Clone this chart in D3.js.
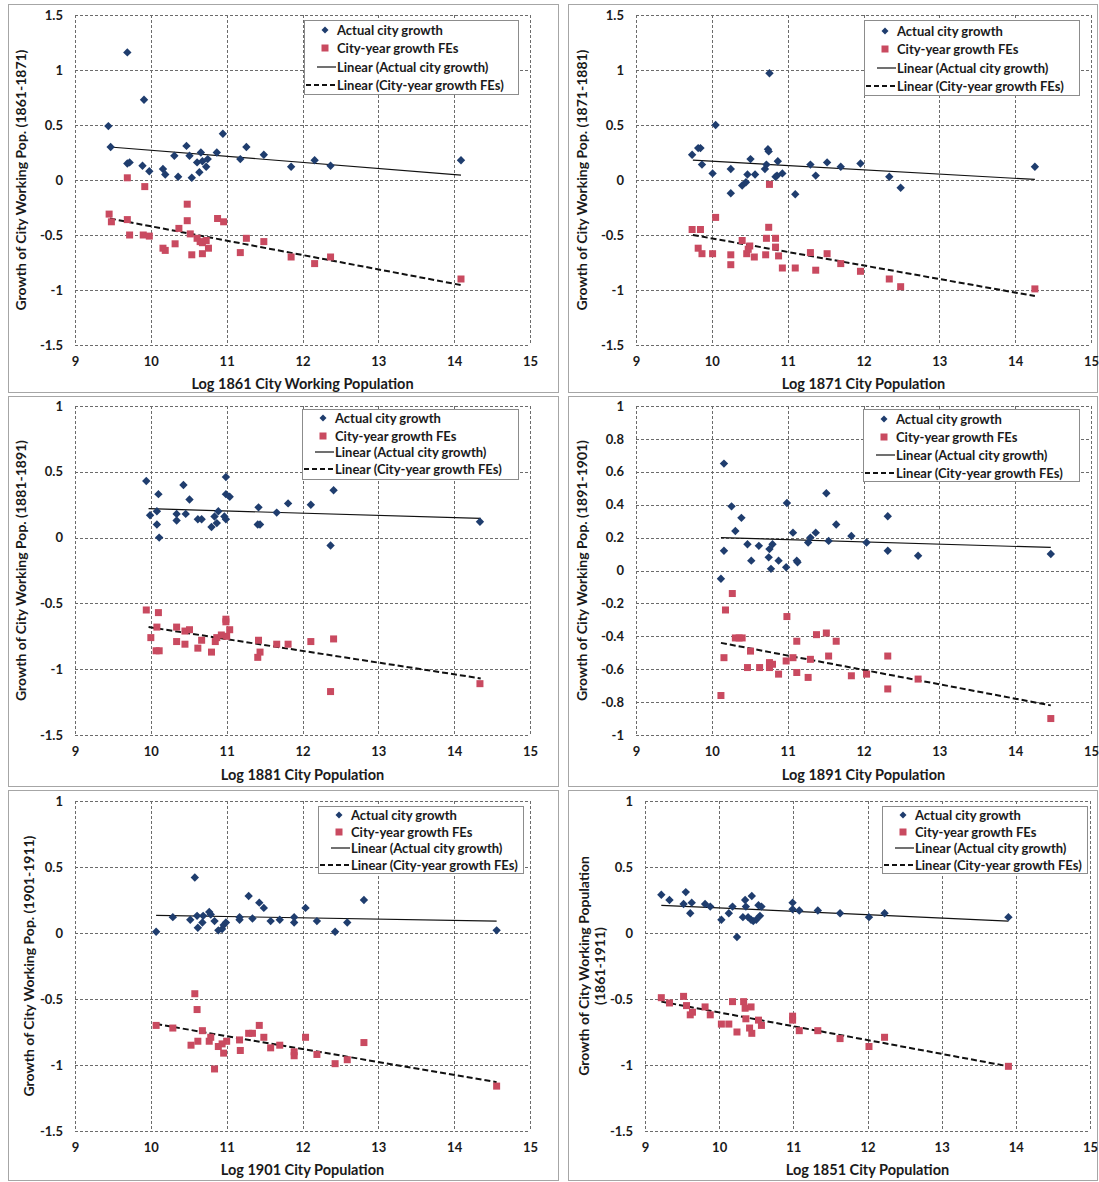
<!DOCTYPE html>
<html><head><meta charset="utf-8">
<script src="https://cdn.jsdelivr.net/npm/d3@7"></script>
<style>
body{margin:0;background:#fff}
svg{display:block}
text{font-family:Lato,"Open Sans",sans-serif;font-weight:bold;fill:#1a1a1a}
</style>
</head><body>
<svg id="chart" width="1099" height="1182"></svg>
<script>
// ---------------- DATA ----------------
const xTicks = [9, 10, 11, 12, 13, 14, 15];
const yTicksWide = [-1.5, -1, -0.5, 0, 0.5, 1, 1.5];
const yTicksMid = [-1.5, -1, -0.5, 0, 0.5, 1];
const yTicksFine = [-1, -0.8, -0.6, -0.4, -0.2, 0, 0.2, 0.4, 0.6, 0.8, 1];

const legendLabels = ["Actual city growth", "City-year growth FEs",
  "Linear (Actual city growth)", "Linear (City-year growth FEs)"];

const xTitles = ["Log 1861 City Working Population", "Log 1871 City Population",
  "Log 1881 City Population", "Log 1891 City Population",
  "Log 1901 City Population", "Log 1851 City Population"];
const yTitles = [
  ["Growth of City Working Pop. (1861-1871)"],
  ["Growth of City Working Pop.  (1871-1881)"],
  ["Growth of City Working Pop.  (1881-1891)"],
  ["Growth of City Working Pop.  (1891-1901)"],
  ["Growth of City Working Pop.  (1901-1911)"],
  ["Growth of City Working Population", "(1861-1911)"]];

const p1Actual = [[9.44,0.49],[9.47,0.30],[9.69,1.16],[9.69,0.15],[9.72,0.16],[9.91,0.73],[9.89,0.13],[9.98,0.08],[10.16,0.10],[10.19,0.05],[10.31,0.22],[10.36,0.03],[10.47,0.31],[10.51,0.22],[10.54,0.02],[10.61,0.16],[10.64,0.07],[10.66,0.25],[10.68,0.17],[10.73,0.12],[10.75,0.19],[10.87,0.25],[10.95,0.42],[11.18,0.19],[11.26,0.30],[11.49,0.23],[11.85,0.12],[12.16,0.18],[12.37,0.13],[14.09,0.18]];
const p1Fe = [[9.45,-0.31],[9.48,-0.38],[9.69,0.02],[9.69,-0.36],[9.72,-0.50],[9.92,-0.06],[9.90,-0.50],[9.98,-0.51],[10.16,-0.62],[10.19,-0.64],[10.32,-0.58],[10.37,-0.44],[10.48,-0.22],[10.48,-0.37],[10.52,-0.49],[10.54,-0.68],[10.61,-0.53],[10.65,-0.56],[10.68,-0.57],[10.68,-0.67],[10.73,-0.55],[10.76,-0.62],[10.88,-0.35],[10.96,-0.38],[11.18,-0.66],[11.26,-0.53],[11.49,-0.56],[11.85,-0.70],[12.16,-0.76],[12.37,-0.70],[14.09,-0.90]];
const p1TrendActual = [[9.46,0.30],[14.09,0.045]];
const p1TrendFe = [[9.46,-0.35],[14.09,-0.955]];

const p2Actual = [[9.74,0.23],[9.82,0.29],[9.85,0.29],[9.87,0.14],[10.05,0.50],[10.01,0.06],[10.25,0.10],[10.25,-0.12],[10.40,-0.05],[10.45,-0.02],[10.47,0.05],[10.51,0.19],[10.57,0.05],[10.70,0.10],[10.72,0.14],[10.74,0.28],[10.75,0.26],[10.76,0.97],[10.87,0.17],[10.84,0.03],[10.86,0.04],[10.93,0.06],[11.10,-0.13],[11.30,0.14],[11.37,0.04],[11.52,0.16],[11.70,0.12],[11.96,0.15],[12.34,0.03],[12.49,-0.07],[14.26,0.12]];
const p2Fe = [[9.74,-0.45],[9.85,-0.45],[9.82,-0.62],[9.87,-0.67],[10.05,-0.34],[10.01,-0.67],[10.25,-0.68],[10.25,-0.77],[10.40,-0.55],[10.46,-0.67],[10.48,-0.63],[10.50,-0.60],[10.56,-0.70],[10.71,-0.68],[10.72,-0.53],[10.75,-0.43],[10.76,-0.04],[10.84,-0.53],[10.84,-0.61],[10.88,-0.69],[10.93,-0.80],[11.10,-0.80],[11.30,-0.66],[11.37,-0.82],[11.52,-0.67],[11.70,-0.76],[11.96,-0.83],[12.34,-0.90],[12.49,-0.97],[14.26,-0.99]];
const p2TrendActual = [[9.75,0.18],[14.26,0.005]];
const p2TrendFe = [[9.75,-0.50],[14.26,-1.055]];

const p3Actual = [[9.94,0.43],[10.10,0.33],[9.99,0.17],[10.08,0.20],[10.08,0.10],[10.11,0.00],[10.34,0.18],[10.34,0.13],[10.43,0.40],[10.46,0.18],[10.51,0.29],[10.62,0.14],[10.67,0.14],[10.80,0.08],[10.84,0.16],[10.87,0.11],[10.89,0.20],[10.97,0.16],[10.99,0.46],[10.99,0.33],[11.04,0.31],[10.99,0.14],[11.42,0.23],[11.41,0.10],[11.44,0.10],[11.66,0.19],[11.81,0.26],[12.11,0.25],[12.41,0.36],[12.37,-0.06],[14.34,0.12]];
const p3Fe = [[9.94,-0.55],[10.10,-0.57],[10.08,-0.68],[10.00,-0.76],[10.07,-0.86],[10.11,-0.86],[10.34,-0.68],[10.34,-0.79],[10.45,-0.81],[10.45,-0.71],[10.51,-0.70],[10.62,-0.84],[10.67,-0.78],[10.80,-0.87],[10.85,-0.79],[10.87,-0.76],[10.93,-0.74],[10.99,-0.62],[10.99,-0.64],[11.00,-0.75],[11.04,-0.70],[11.42,-0.78],[11.44,-0.87],[11.41,-0.91],[11.66,-0.81],[11.81,-0.81],[12.11,-0.79],[12.41,-0.77],[12.37,-1.17],[14.34,-1.11]];
const p3TrendActual = [[9.97,0.22],[14.35,0.146]];
const p3TrendFe = [[9.97,-0.68],[14.35,-1.07]];

const p4Actual = [[10.16,0.65],[10.12,-0.05],[10.16,0.12],[10.26,0.39],[10.31,0.24],[10.39,0.32],[10.47,0.16],[10.52,0.06],[10.62,0.15],[10.75,0.08],[10.76,0.13],[10.78,0.01],[10.80,0.16],[10.88,0.06],[10.98,0.02],[10.99,0.41],[11.07,0.23],[11.12,0.06],[11.13,0.05],[11.27,0.17],[11.30,0.20],[11.37,0.23],[11.51,0.47],[11.54,0.18],[11.64,0.28],[11.84,0.21],[12.04,0.17],[12.32,0.33],[12.32,0.12],[12.72,0.09],[14.47,0.10]];
const p4Fe = [[10.27,-0.14],[10.18,-0.24],[10.31,-0.41],[10.36,-0.41],[10.40,-0.41],[10.16,-0.53],[10.12,-0.76],[10.51,-0.49],[10.47,-0.59],[10.63,-0.59],[10.76,-0.56],[10.76,-0.59],[10.80,-0.57],[10.88,-0.63],[10.98,-0.55],[10.99,-0.28],[11.07,-0.53],[11.12,-0.43],[11.12,-0.62],[11.27,-0.65],[11.30,-0.54],[11.38,-0.39],[11.51,-0.38],[11.54,-0.52],[11.64,-0.43],[11.84,-0.64],[12.04,-0.63],[12.32,-0.52],[12.32,-0.72],[12.72,-0.66],[14.47,-0.90]];
const p4TrendActual = [[10.12,0.20],[14.47,0.14]];
const p4TrendFe = [[10.12,-0.44],[14.47,-0.82]];

const p5Actual = [[10.07,0.01],[10.29,0.12],[10.52,0.10],[10.58,0.42],[10.61,0.13],[10.62,0.04],[10.68,0.08],[10.69,0.13],[10.77,0.16],[10.79,0.14],[10.84,0.09],[10.89,0.02],[10.94,0.03],[10.96,0.06],[10.99,0.08],[11.17,0.12],[11.17,0.10],[11.29,0.28],[11.34,0.11],[11.43,0.23],[11.49,0.19],[11.58,0.09],[11.70,0.10],[11.89,0.12],[11.89,0.08],[12.04,0.19],[12.19,0.09],[12.43,0.01],[12.59,0.08],[12.81,0.25],[14.56,0.02]];
const p5Fe = [[10.07,-0.70],[10.29,-0.72],[10.53,-0.85],[10.58,-0.46],[10.61,-0.58],[10.62,-0.82],[10.68,-0.74],[10.77,-0.82],[10.79,-0.79],[10.84,-1.03],[10.89,-0.86],[10.94,-0.84],[10.96,-0.91],[11.00,-0.82],[11.17,-0.81],[11.18,-0.89],[11.29,-0.76],[11.34,-0.76],[11.43,-0.70],[11.49,-0.79],[11.58,-0.87],[11.70,-0.85],[11.89,-0.90],[11.89,-0.93],[12.04,-0.79],[12.19,-0.92],[12.43,-0.99],[12.59,-0.96],[12.81,-0.83],[14.56,-1.16]];
const p5TrendActual = [[10.07,0.134],[14.56,0.09]];
const p5TrendFe = [[10.07,-0.69],[14.56,-1.13]];

const p6Actual = [[9.22,0.29],[9.33,0.25],[9.52,0.22],[9.55,0.31],[9.61,0.15],[9.63,0.23],[9.81,0.22],[9.88,0.20],[10.03,0.10],[10.13,0.15],[10.18,0.20],[10.24,-0.03],[10.32,0.12],[10.35,0.25],[10.36,0.20],[10.39,0.12],[10.43,0.10],[10.44,0.28],[10.46,0.09],[10.50,0.10],[10.53,0.21],[10.55,0.13],[10.57,0.20],[10.99,0.23],[10.99,0.18],[11.08,0.17],[11.33,0.17],[11.63,0.15],[12.02,0.12],[12.23,0.15],[13.90,0.12]];
const p6Fe = [[9.22,-0.49],[9.33,-0.53],[9.52,-0.48],[9.56,-0.55],[9.61,-0.62],[9.64,-0.60],[9.81,-0.56],[9.88,-0.62],[10.03,-0.69],[10.13,-0.69],[10.18,-0.52],[10.24,-0.75],[10.33,-0.52],[10.35,-0.57],[10.36,-0.65],[10.43,-0.56],[10.41,-0.72],[10.44,-0.76],[10.53,-0.66],[10.57,-0.70],[10.99,-0.63],[10.99,-0.66],[11.08,-0.74],[11.33,-0.74],[11.63,-0.80],[12.02,-0.86],[12.23,-0.79],[13.90,-1.01]];
const p6TrendActual = [[9.22,0.21],[13.90,0.09]];
const p6TrendFe = [[9.22,-0.52],[13.90,-1.01]];

// ---------------- LAYOUT ----------------
const panels = [
  {frame:[8,4,558,392], plot:[75,530,15,345], yDomain:[-1.5,1.5], yTicks:yTicksWide, yTitleX:[20], xTitleY:389,
   legend:{x:304,y:20,w:214,h:74,rows:[30,48,67,85]}, actual:p1Actual, fe:p1Fe, tA:p1TrendActual, tF:p1TrendFe},
  {frame:[568,4,1097,392], plot:[636,1091,15,345], yDomain:[-1.5,1.5], yTicks:yTicksWide, yTitleX:[581], xTitleY:389,
   legend:{x:864,y:20,w:215,h:75,rows:[31,49,68,86]}, actual:p2Actual, fe:p2Fe, tA:p2TrendActual, tF:p2TrendFe},
  {frame:[8,396,558,786], plot:[75,530,406,735], yDomain:[-1.5,1], yTicks:yTicksMid, yTitleX:[20], xTitleY:780,
   legend:{x:302,y:409,w:216,h:70,rows:[418,436,452,469]}, actual:p3Actual, fe:p3Fe, tA:p3TrendActual, tF:p3TrendFe},
  {frame:[568,396,1097,786], plot:[636,1091,406,735], yDomain:[-1,1], yTicks:yTicksFine, yTitleX:[581], xTitleY:780,
   legend:{x:863,y:409,w:216,h:72,rows:[419,437,455,473]}, actual:p4Actual, fe:p4Fe, tA:p4TrendActual, tF:p4TrendFe},
  {frame:[8,790,558,1180], plot:[75,530,801,1131], yDomain:[-1.5,1], yTicks:yTicksMid, yTitleX:[28], xTitleY:1175,
   legend:{x:318,y:806,w:205,h:67,rows:[815,832,848,865]}, actual:p5Actual, fe:p5Fe, tA:p5TrendActual, tF:p5TrendFe},
  {frame:[568,790,1097,1180], plot:[645,1090,801,1131], yDomain:[-1.5,1], yTicks:yTicksMid, yTitleX:[583,599], xTitleY:1175,
   legend:{x:882,y:806,w:205,h:67,rows:[815,832,848,865]}, actual:p6Actual, fe:p6Fe, tA:p6TrendActual, tF:p6TrendFe}
];

const blue = "#1f3d6e";
const red = "#c94a60";
const gridColor = "#6b6b6b";
const fmt = v => String(+v.toFixed(1));

const svg = d3.select("#chart");
svg.append("rect").attr("width",1099).attr("height",1182).attr("fill","#fff");

const diamondPath = "M0,-4.2L4.2,0L0,4.2L-4.2,0Z";

panels.forEach((p, i) => {
  const g = svg.append("g");
  const [fx0, fy0, fx1, fy1] = p.frame;
  g.append("rect").attr("x", fx0 + 0.5).attr("y", fy0 + 0.5)
    .attr("width", fx1 - fx0).attr("height", fy1 - fy0)
    .attr("fill", "#fff").attr("stroke", "#a6a6a6").attr("stroke-width", 1);

  const [l, r, t, b] = p.plot;
  const x = d3.scaleLinear().domain([9, 15]).range([l, r]);
  const y = d3.scaleLinear().domain(p.yDomain).range([b, t]);

  const grid = g.append("g").attr("stroke", gridColor).attr("stroke-width", 1)
    .attr("stroke-dasharray", "3,2").attr("fill", "none");
  xTicks.forEach(v => grid.append("line")
    .attr("x1", Math.round(x(v)) + 0.5).attr("x2", Math.round(x(v)) + 0.5)
    .attr("y1", t).attr("y2", b));
  p.yTicks.forEach(v => grid.append("line")
    .attr("y1", Math.round(y(v)) + 0.5).attr("y2", Math.round(y(v)) + 0.5)
    .attr("x1", l).attr("x2", r));

  const xAxis = d3.axisBottom(x).tickValues(xTicks).tickFormat(fmt).tickSize(0).tickPadding(12);
  const yAxis = d3.axisLeft(y).tickValues(p.yTicks).tickFormat(fmt).tickSize(0).tickPadding(12);
  const gx = g.append("g").attr("transform", `translate(0,${b})`).call(xAxis);
  const gy = g.append("g").attr("transform", `translate(${l},0)`).call(yAxis);
  [gx, gy].forEach(a => {
    a.select(".domain").remove();
    a.selectAll("text").attr("font-size", 13).attr("font-family", "Lato, 'Open Sans', sans-serif")
      .attr("font-weight", "bold").attr("fill", "#1a1a1a");
  });

  g.append("text").attr("x", (l + r) / 2).attr("y", p.xTitleY)
    .attr("text-anchor", "middle").attr("font-size", 14.5).text(xTitles[i]);
  const cy = (t + b) / 2;
  yTitles[i].forEach((line, k) => {
    g.append("text").attr("transform", `translate(${p.yTitleX[k]},${cy}) rotate(-90)`)
      .attr("text-anchor", "middle").attr("dominant-baseline", "central")
      .attr("font-size", 14).text(line);
  });

  const lineGen = d3.line().x(d => x(d[0])).y(d => y(d[1]));
  g.append("path").datum(p.tA).attr("d", lineGen).attr("fill", "none")
    .attr("stroke", "#111").attr("stroke-width", 1.2);
  g.append("path").datum(p.tF).attr("d", lineGen).attr("fill", "none")
    .attr("stroke", "#111").attr("stroke-width", 2).attr("stroke-dasharray", "6,3");

  g.append("g").selectAll("path").data(p.actual).join("path")
    .attr("d", diamondPath)
    .attr("transform", d => `translate(${x(d[0])},${y(d[1])})`)
    .attr("fill", blue);
  g.append("g").selectAll("rect").data(p.fe).join("rect")
    .attr("x", d => x(d[0]) - 3.5).attr("y", d => y(d[1]) - 3.5)
    .attr("width", 7).attr("height", 7).attr("fill", red);

  const L = p.legend;
  const lg = g.append("g");
  lg.append("rect").attr("x", L.x + 0.5).attr("y", L.y + 0.5).attr("width", L.w).attr("height", L.h)
    .attr("fill", "#fff").attr("stroke", "#8c8c8c").attr("stroke-width", 1);
  const mx = L.x + 21, tx = L.x + 33;
  lg.append("path").attr("d", "M0,-3.5L3.5,0L0,3.5L-3.5,0Z")
    .attr("transform", `translate(${mx},${L.rows[0]})`).attr("fill", blue);
  lg.append("rect").attr("x", mx - 3.5).attr("y", L.rows[1] - 3.5).attr("width", 7).attr("height", 7).attr("fill", red);
  lg.append("line").attr("x1", L.x + 13).attr("x2", L.x + 32).attr("y1", L.rows[2]).attr("y2", L.rows[2])
    .attr("stroke", "#111").attr("stroke-width", 1.2);
  lg.append("line").attr("x1", L.x + 2).attr("x2", L.x + 32).attr("y1", L.rows[3]).attr("y2", L.rows[3])
    .attr("stroke", "#111").attr("stroke-width", 2).attr("stroke-dasharray", "5,3");
  legendLabels.forEach((txt, k) => {
    lg.append("text").attr("x", tx).attr("y", L.rows[k]).attr("dominant-baseline", "central")
      .attr("font-size", 13).text(txt);
  });
});
</script>
</body></html>
